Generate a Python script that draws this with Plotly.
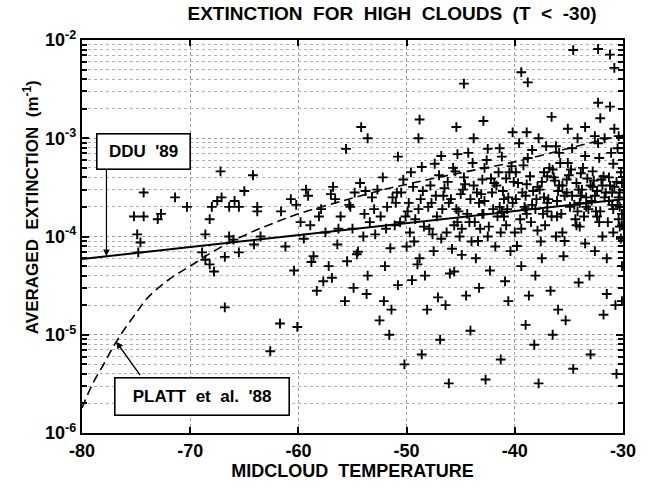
import plotly.graph_objects as go

# ---------------- data ----------------
temp_pts = [
    # sparse left part
    -75.2, -74.3, -73.0, -72.7, -74.3, -71.4, -74.9, -74.6, -74.8, -70.3,
    -68.2, -68.0, -67.5, -67.1, -67.2, -66.4, -65.5, -65.9, -65.0, -64.2,
    -63.8, -63.8, -68.6, -66.4, -66.0, -64.1, -65.5, -68.9, -68.6, -68.2,
    -67.8, -66.8, -63.5, -66.8, -61.7, -60.1, -62.6,
    # upper outliers / upper edge
    -54.2, -55.6, -53.6, -50.8, -48.9, -48.8, -48.6, -46.8, -45.4, -45.3,
    -44.7, -43.8, -42.9, -42.5, -41.2, -40.2, -39.4, -38.8, -38.9, -37.8,
    -36.6, -36.2, -35.1, -34.6, -34.2, -33.5, -32.6, -32.3, -32.3, -32.1,
    -31.7, -31.2, -31.2, -30.8, -30.8, -30.4,
    # main cloud, pass 1
    -61.6, -61.2, -60.7, -60.4, -59.8, -59.5, -59.1, -58.6, -58.3, -57.9,
    -57.5, -57.2, -56.8, -56.4, -56.1, -55.7, -55.3, -55.0, -54.6, -54.3,
    -53.9, -53.6, -53.2, -52.9, -52.5, -52.2, -51.8, -51.5, -51.1, -50.8,
    -50.5, -50.2, -49.9, -49.6, -49.3, -49.0, -48.7, -48.4, -48.1, -47.8,
    -47.5, -47.2, -46.9, -46.6, -46.3, -46.0, -45.7, -45.4, -45.1, -44.8,
    -44.5, -44.2, -43.9, -43.6, -43.3, -43.0, -42.7, -42.4, -42.1, -41.8,
    -41.5, -41.2, -40.9, -40.6, -40.3, -40.0, -39.7, -39.4, -39.1, -38.8,
    -38.5, -38.2, -37.9, -37.6, -37.3, -37.0, -36.7, -36.4, -36.1, -35.8,
    -35.5, -35.2, -34.9, -34.6, -34.3, -34.0, -33.7, -33.4, -33.1, -32.8,
    -32.5, -32.2, -31.9, -31.6, -31.3, -31.0, -30.7, -30.4, -30.2,
    # main cloud, pass 2
    -60.2, -58.9, -57.7, -56.6, -55.5, -54.8, -54.0, -53.4, -52.7, -52.0,
    -51.3, -50.6, -50.0, -49.4, -48.9, -48.3, -47.7, -47.0, -46.4, -45.9,
    -45.3, -44.7, -44.0, -43.5, -42.9, -42.3, -41.7, -41.0, -40.4, -39.9,
    -39.3, -38.7, -38.0, -37.4, -36.8, -36.2, -35.6, -35.0, -34.4, -33.8,
    -33.2, -32.6, -32.0, -31.4, -30.8, -30.3,
    # main cloud, pass 3 (densest band)
    -49.8, -49.2, -48.5, -47.9, -47.3, -46.7, -46.2, -45.6, -45.0, -44.4,
    -43.8, -43.2, -42.8, -42.2, -41.6, -41.1, -40.7, -40.1, -39.5, -39.0,
    -38.6, -38.1, -37.7, -37.2, -36.9, -36.3, -35.7, -35.4, -34.8, -34.5,
    -34.1, -33.6, -33.3, -32.9, -32.4, -32.1, -31.7, -31.2, -30.9, -30.3,
    -30.1,
    # main cloud, pass 4
    -53.8, -52.4, -51.0, -50.3, -49.7, -48.8, -48.0, -47.4, -46.8, -46.1,
    -45.5, -44.9, -44.1, -43.4, -42.8, -42.0, -41.3, -40.8, -40.2, -39.8,
    -39.2, -38.9, -38.3, -37.5, -37.0, -36.6, -36.0, -35.4, -35.1, -34.2,
    -33.9, -33.5, -32.8, -32.4, -31.9, -31.5, -30.9, -30.5, -30.2,
    -30.1, -30.1, -30.1, -30.1,
    # main cloud, pass 5
    -47.6, -46.5, -45.8, -45.2, -44.6, -43.7, -43.1, -42.5, -41.9, -41.4,
    -40.8, -40.5, -39.9, -39.4, -38.9, -38.4, -37.9, -37.5, -37.0, -36.5,
    -36.1, -35.6, -35.2, -34.7, -34.3, -33.9, -33.4, -33.0, -32.6, -32.2,
    -31.8, -31.3, -30.9, -30.6, -30.3, -44.9, -43.0, -41.0, -39.0, -37.3,
    -35.9, -34.0, -32.7, -31.0, -30.4,
    # middle part
    -59.3, -58.1, -57.0, -56.3, -55.2, -54.5, -53.0, -51.9, -50.9, -50.1,
    -58.8, -56.9, -53.7, -51.4,
    # lower middle
    -54.9, -52.1, -49.5, -47.1, -45.6, -43.3, -40.6, -38.1, -36.0, -34.1,
    -31.5,
    # upper band
    -44.3, -42.6, -41.4, -39.6, -38.4, -37.1, -35.9, -34.7, -33.5, -32.3,
    -31.1, -30.5,
    # low tail
    -51.6, -48.6, -46.1, -44.1, -41.3, -39.0, -37.8, -36.5, -35.3, -33.0,
    -31.8, -30.6,
]

ext_pts = [
    # sparse left part
    1.6e-4, 1.6e-4, 1.5e-4, 1.7e-4, 2.8e-4, 2.5e-4, 1.05e-4, 8.7e-5, 6.9e-5, 2.0e-4,
    1.5e-4, 2.0e-4, 2.3e-4, 2.5e-4, 4.6e-4, 2.0e-4, 2.0e-4, 2.3e-4, 2.9e-4, 4.2e-4,
    2.0e-4, 1.8e-4, 1.05e-4, 1.0e-4, 9.3e-5, 8.3e-5, 6.9e-5, 6.9e-5, 5.8e-5, 5.2e-5,
    4.4e-5, 6.2e-5, 1.0e-4, 1.9e-5, 1.3e-5, 1.2e-5, 6.8e-6,
    # upper outliers / upper edge
    1.3e-3, 7.8e-4, 1.0e-3, 6.5e-4, 1.0e-3, 1.55e-3, 5.1e-4, 6.6e-4, 1.3e-3, 6.9e-4,
    3.6e-3, 1.0e-3, 1.5e-3, 7.8e-4, 6.5e-4, 1.15e-3, 4.7e-3, 3.7e-3, 1.15e-3, 1.0e-3,
    1.65e-3, 8.3e-4, 1.25e-3, 7.9e-3, 1.0e-3, 1.3e-3, 1.05e-3, 8.1e-3, 2.3e-3, 1.6e-3,
    1.0e-3, 7.1e-3, 2.1e-3, 5.2e-3, 1.25e-3, 1.05e-3,
    # main cloud, pass 1
    1.8e-4, 7.9e-5, 2.4e-4, 4.5e-5, 1.4e-4, 9.5e-5, 2.6e-4, 6.3e-5, 2.8e-5, 1.9e-4,
    1.1e-4, 5.0e-5, 3.2e-4, 8.3e-5, 1.6e-4, 2.2e-5, 2.1e-4, 1.2e-4, 6.6e-5, 3.5e-4,
    1.7e-4, 4.0e-5, 2.5e-4, 1.05e-4, 1.4e-5, 4.0e-4, 2.0e-4, 7.6e-5, 1.3e-4, 3.2e-5,
    2.8e-4, 5.0e-6, 1.8e-4, 4.5e-4, 8.9e-5, 5.2e-5, 2.4e-4, 1.26e-4, 1.8e-5, 3.3e-4,
    7.1e-5, 1.6e-4, 8.9e-6, 2.6e-4, 1.1e-4, 4.2e-5, 5.0e-4, 1.9e-4, 1.0e-4, 3.0e-4,
    2.5e-5, 1.4e-4, 5.6e-4, 6.0e-5, 2.2e-4, 3.8e-4, 3.5e-6, 1.26e-4, 2.8e-4, 7.9e-5,
    4.5e-4, 1.8e-4, 3.5e-5, 2.5e-4, 5.2e-4, 1.1e-4, 3.5e-4, 5.0e-5, 2.0e-4, 6.3e-4,
    1.4e-4, 7.9e-6, 3.2e-4, 8.9e-5, 4.5e-4, 2.2e-4, 2.8e-5, 4.0e-4, 1.6e-4, 5.6e-4,
    6.3e-5, 2.8e-4, 2.0e-4, 4.5e-6, 3.5e-4, 1.26e-4, 5.0e-4, 2.5e-4, 4.0e-5, 3.2e-4,
    1.8e-4, 6.3e-4, 1.0e-4, 2.8e-4, 4.0e-4, 2.1e-4, 2.0e-5, 2.5e-4, 4.5e-4,
    # main cloud, pass 2
    2.1e-4, 1.3e-4, 3.5e-5, 2.4e-4, 5.6e-5, 2.8e-4, 1.0e-4, 1.4e-4, 3.0e-4, 5.0e-5,
    2.5e-4, 1.4e-4, 7.9e-5, 3.2e-4, 1.9e-4, 4.0e-5, 2.2e-4, 4.2e-4, 2.0e-5, 2.4e-4,
    1.4e-4, 4.0e-4, 8.9e-5, 2.8e-4, 1.7e-4, 4.5e-5, 3.3e-4, 2.4e-4, 7.1e-5, 4.5e-4,
    2.8e-4, 2.5e-5, 2.4e-4, 1.7e-4, 5.0e-4, 1.0e-4, 3.3e-4, 4.2e-4, 1.5e-4, 3.0e-4,
    1.9e-4, 7.1e-5, 3.8e-4, 1.4e-4, 3.2e-4, 1.26e-4,
    # main cloud, pass 3 (densest band)
    2.2e-4, 1.5e-4, 2.9e-4, 1.2e-4, 2.6e-4, 1.9e-4, 3.6e-4, 1.3e-4, 2.7e-4, 1.7e-4,
    3.3e-4, 1.2e-4, 2.3e-4, 3.9e-4, 1.6e-4, 2.9e-4, 1.9e-4, 3.6e-4, 1.5e-4, 2.6e-4,
    4.1e-4, 1.9e-4, 3.0e-4, 1.3e-4, 2.4e-4, 3.7e-4, 1.7e-4, 2.6e-4, 4.8e-4, 2.1e-4,
    3.0e-4, 1.6e-4, 3.9e-4, 2.3e-4, 2.9e-4, 1.8e-4, 2.5e-4, 3.3e-4, 1.9e-4, 2.8e-4,
    1.7e-4,
    # main cloud, pass 4
    2.9e-4, 1.6e-4, 2.2e-4, 3.8e-4, 1.1e-4, 6.0e-5, 2.0e-4, 5.5e-4, 9.5e-5, 2.2e-4,
    4.6e-4, 6.5e-5, 2.4e-4, 9.0e-5, 5.0e-4, 1.9e-4, 1.1e-4, 3.9e-4, 2.2e-4, 8.0e-5,
    5.3e-4, 1.7e-4, 2.9e-4, 6.0e-5, 4.1e-4, 1.6e-4, 2.9e-4, 9.0e-5, 5.6e-4, 1.8e-4,
    2.6e-4, 8.5e-5, 4.6e-4, 1.6e-4, 3.3e-4, 6.0e-5, 5.5e-4, 2.1e-4, 9.5e-5,
    3.5e-4, 1.3e-4, 5.0e-5, 2.2e-5,
    # main cloud, pass 5
    1.05e-4, 3.1e-4, 7.5e-5, 1.8e-4, 3.4e-4, 1.4e-4, 2.7e-4, 1.0e-4, 3.5e-4, 2.0e-4,
    1.3e-4, 4.5e-4, 2.4e-4, 1.2e-4, 3.4e-4, 2.1e-4, 1.15e-4, 3.6e-4, 1.8e-4, 4.8e-4,
    2.3e-4, 1.1e-4, 3.8e-4, 2.6e-4, 1.3e-4, 4.4e-4, 2.0e-4, 3.3e-4, 2.6e-4, 1.4e-4,
    4.1e-4, 2.3e-4, 1.1e-4, 3.6e-4, 2.0e-4, 1.2e-4, 1.7e-4, 1.6e-4, 1.9e-4, 2.5e-4,
    3.3e-4, 2.2e-4, 3.7e-4, 2.8e-4, 1.5e-4,
    # middle part
    3.0e-4, 1.6e-4, 2.7e-4, 1.2e-4, 2.0e-4, 7.0e-5, 1.9e-4, 1.2e-4, 2.8e-4, 1.6e-4,
    5.5e-5, 3.8e-5, 2.6e-5, 1.8e-5,
    # lower middle
    3.0e-5, 2.2e-5, 3.6e-5, 2.4e-5, 4.4e-5, 3.0e-5, 2.2e-5, 4.0e-5, 1.8e-5, 3.4e-5,
    2.6e-5,
    # upper band
    7.1e-4, 6.0e-4, 7.9e-4, 8.9e-4, 7.6e-4, 8.3e-4, 7.1e-4, 7.9e-4, 6.6e-4, 8.9e-4,
    7.1e-4, 7.9e-4,
    # low tail
    1.0e-5, 6.3e-6, 3.2e-6, 1.1e-5, 5.6e-6, 1.26e-5, 3.2e-6, 1.0e-5, 1.4e-5, 6.3e-6,
    1.6e-5, 4.0e-6,
]

# DDU '89 fit (solid line)
ddu_temp = [-80, -55, -30]
ddu_ext = [5.9e-5, 1.18e-4, 2.4e-4]

# Platt et al. '88 curve (dashed line)
platt_temp = [-80, -79, -78, -77, -76, -75, -74, -72, -70, -68, -66, -64,
              -62, -60, -56, -52, -48, -44, -40, -36, -32, -30]
platt_ext = [1.8e-6, 3.2e-6, 5.0e-6, 7.9e-6, 1.17e-5, 1.66e-5, 2.34e-5, 3.63e-5,
             5.0e-5, 6.9e-5, 9.1e-5, 1.15e-4, 1.41e-4, 1.70e-4, 2.29e-4, 3.02e-4,
             3.80e-4, 4.68e-4, 5.75e-4, 7.41e-4, 9.55e-4, 1.07e-3]

x_ticks = [-80, -70, -60, -50, -40, -30]
x_ticktext = ["<b>-80</b>", "<b>-70</b>", "<b>-60</b>", "<b>-50</b>",
              "<b>-40</b>", "<b>-30</b>"]
y_ticks = [1e-6, 1e-5, 1e-4, 1e-3, 1e-2]
y_ticktext = ["<b>10<sup>-6</sup></b>", "<b>10<sup>-5</sup></b>",
              "<b>10<sup>-4</sup></b>", "<b>10<sup>-3</sup></b>",
              "<b>10<sup>-2</sup></b>"]
y_minor = [m * d for d in [1e-6, 1e-5, 1e-4, 1e-3] for m in range(2, 10)]

FONT = "Liberation Sans"

fig = go.Figure()
fig.add_trace(go.Scatter(
    x=temp_pts, y=ext_pts, mode="markers",
    marker=dict(symbol="cross-thin", size=7, line=dict(color="black", width=1.9)),
    showlegend=False, hoverinfo="skip"))
fig.add_trace(go.Scatter(
    x=ddu_temp, y=ddu_ext, mode="lines",
    line=dict(color="black", width=2), showlegend=False))
fig.add_trace(go.Scatter(
    x=platt_temp, y=platt_ext, mode="lines",
    line=dict(color="black", width=1.6, dash="9px,5px", shape="spline"),
    showlegend=False))

fig.update_layout(
    width=648, height=489,
    margin=dict(l=82, r=12, t=40, b=51),
    paper_bgcolor="white", plot_bgcolor="white",
    font=dict(family=FONT, color="black", size=15),
    title=dict(text="<b>EXTINCTION  FOR  HIGH  CLOUDS  (T  &lt;  -30)</b>",
               x=0.605, xanchor="center", y=0.972, yanchor="middle",
               font=dict(size=19, family=FONT, color="black")),
)

fig.update_xaxes(
    range=[-80, -30], tickvals=x_ticks, ticktext=x_ticktext,
    ticks="inside", ticklen=6, tickwidth=1.5, tickcolor="black",
    showline=True, linecolor="black", linewidth=2.2, mirror="ticks",
    showgrid=True, gridcolor="#9a9a9a", griddash="dot", gridwidth=1,
    zeroline=False, tickfont=dict(size=18, family=FONT),
    title=dict(text="<b>MIDCLOUD  TEMPERATURE</b>", standoff=4,
               font=dict(size=18, family=FONT)),
)
fig.update_yaxes(
    type="log", range=[-6, -2], tickvals=y_ticks, ticktext=y_ticktext,
    ticks="inside", ticklen=7, tickwidth=1.5, tickcolor="black",
    showline=True, linecolor="black", linewidth=2.2, mirror="ticks",
    showgrid=True, gridcolor="#9a9a9a", griddash="dot", gridwidth=1,
    zeroline=False, tickfont=dict(size=18, family=FONT),
    minor=dict(tickvals=y_minor, ticks="inside", ticklen=5, tickwidth=1.5,
               tickcolor="black", showgrid=True, gridcolor="#b0b0b0",
               griddash="dot", gridwidth=1),
)

# y-axis title (placed as in the reference, above the plot centre)
fig.add_annotation(x=-0.094, y=0.575, xref="paper", yref="paper",
                   xanchor="center", yanchor="middle",
                   text="<b>AVERAGED  EXTINCTION  (m<sup>-1</sup>)</b>",
                   textangle=-90, showarrow=False,
                   font=dict(size=17, family=FONT, color="black"))

# Label boxes
fig.add_annotation(x=-74.3, y=-3.136, xref="x", yref="y",
                   text="<b>DDU&nbsp;&nbsp;'89</b>", showarrow=False,
                   font=dict(size=17, family=FONT, color="black"),
                   bordercolor="black", borderwidth=1.6, borderpad=5,
                   bgcolor="white", width=82, height=24)
fig.add_annotation(x=-77.74, y=-4.2, xref="x", yref="y", text="",
                   showarrow=True, ax=0, ay=-88, arrowhead=2, arrowsize=1.1,
                   arrowwidth=1.2, arrowcolor="black", standoff=0)
fig.add_annotation(x=-68.94, y=-5.628, xref="x", yref="y",
                   text="<b>PLATT&nbsp;&nbsp;et&nbsp;&nbsp;al.&nbsp;&nbsp;'88</b>",
                   showarrow=False,
                   font=dict(size=17, family=FONT, color="black"),
                   bordercolor="black", borderwidth=1.6, borderpad=5,
                   bgcolor="white", width=163, height=26)
fig.add_annotation(x=-76.84, y=-5.07, xref="x", yref="y", text="",
                   showarrow=True, ax=25, ay=35, arrowhead=2, arrowsize=1,
                   arrowwidth=1.4, arrowcolor="black", standoff=0)

fig.write_html("out.html")
